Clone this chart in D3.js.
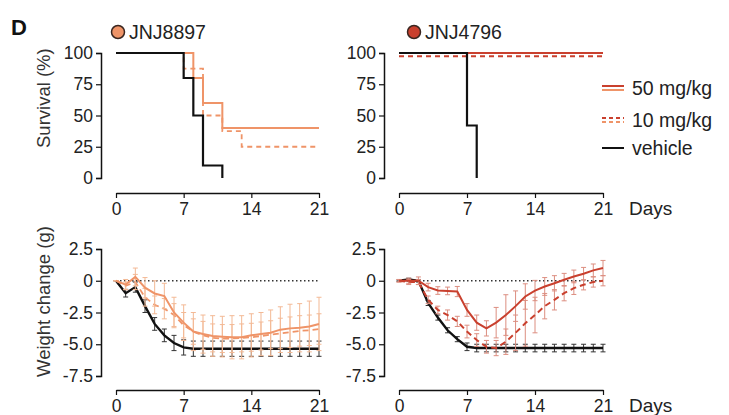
<!DOCTYPE html>
<html>
<head>
<meta charset="utf-8">
<script src="https://cdn.jsdelivr.net/npm/d3@7"></script>
<style>
  body { margin: 0; background: #fff; }
  svg { font-family: "Liberation Sans", Arial, sans-serif; }
</style>
</head>
<body>
<div id="chart"></div>
<script>
// ---- data ----
const days = d3.range(0, 22);
const xTicks = [0, 7, 14, 21];
const survTicks = [0, 25, 50, 75, 100];
const weightTicks = [2.5, 0, -2.5, -5.0, -7.5];
const weightTickLabels = ["2.5", "0", "-2.5", "-5.0", "-7.5"];

// survival steps (day, %)
const s8897Hi = { days: [0, 8, 9, 11, 21], vals: [100, 80, 60, 40, 40] };
const s8897Lo = { days: [0, 7, 9, 11, 13, 21], vals: [100, 87.5, 50, 37.5, 25, 25] };
const s8897Veh = { days: [0, 7, 8, 9, 11], vals: [100, 80, 50, 10, 0] };
const s4796Hi = { days: [0, 21], vals: [100, 100] };
const s4796Lo = { days: [0, 21], vals: [97.5, 97.5] };
const s4796Veh = { days: [0, 7, 8], vals: [100, 42, 0] };

// weight change (g), mean and error
const w8897Hi = [0, -0.3, 0.3, -0.55, -1.0, -1.2, -2.5, -3.3, -4.0, -4.2, -4.35, -4.4, -4.45, -4.45, -4.3, -4.2, -4.1, -3.85, -3.75, -3.7, -3.6, -3.4];
const e8897Hi = [0, 0.4, 0.7, 0.8, 1.0, 1.0, 1.2, 1.4, 1.5, 1.5, 1.6, 1.6, 1.7, 1.7, 1.7, 1.7, 1.8, 1.8, 1.9, 1.9, 2.0, 2.1];
const w8897Lo = [0, -0.4, -0.1, -1.3, -1.9, -2.2, -2.7, -3.5, -4.0, -4.3, -4.5, -4.55, -4.55, -4.5, -4.45, -4.35, -4.25, -4.15, -4.05, -3.95, -3.9, -3.8];
const e8897Lo = [0, 0.3, 0.6, 0.7, 0.7, 0.8, 0.9, 1.0, 1.0, 1.1, 1.1, 1.1, 1.1, 1.1, 1.1, 1.1, 1.1, 1.2, 1.2, 1.2, 1.2, 1.2];
const w8897Veh = [0, -0.98, -0.5, -2.0, -3.4, -4.3, -4.9, -5.25, -5.35, -5.35, -5.35, -5.35, -5.35, -5.35, -5.35, -5.35, -5.35, -5.35, -5.35, -5.35, -5.35, -5.35];
const e8897Veh = [0, 0.3, 0.4, 0.5, 0.5, 0.5, 0.6, 0.6, 0.6, 0.6, 0.6, 0.6, 0.6, 0.6, 0.6, 0.6, 0.6, 0.6, 0.6, 0.6, 0.6, 0.6];

const w4796Hi = [0, 0, 0, -0.5, -0.77, -0.8, -0.85, -2.3, -3.3, -3.75, -3.3, -2.7, -2.0, -1.24, -0.77, -0.45, -0.2, 0.08, 0.34, 0.55, 0.82, 1.0];
const e4796Hi = [0.1, 0.2, 0.3, 0.3, 0.3, 0.3, 0.4, 0.5, 0.6, 0.6, 1.2, 1.6, 1.2, 1.0, 0.8, 0.7, 0.6, 0.5, 0.5, 0.5, 0.5, 0.6];
const w4796Lo = [0, -0.1, -0.1, -1.5, -2.3, -2.7, -3.2, -4.0, -4.67, -5.2, -5.3, -4.8, -4.1, -3.35, -2.7, -2.0, -1.5, -0.98, -0.58, -0.32, -0.1, 0];
const e4796Lo = [0.1, 0.2, 0.2, 0.3, 0.3, 0.4, 0.4, 0.5, 0.5, 0.5, 0.6, 1.0, 1.4, 1.8, 1.4, 1.0, 0.8, 0.6, 0.5, 0.4, 0.4, 0.4];
const w4796Veh = [0, 0.1, 0, -1.75, -2.9, -3.9, -4.6, -5.2, -5.3, -5.3, -5.3, -5.3, -5.3, -5.3, -5.3, -5.3, -5.3, -5.3, -5.3, -5.3, -5.3, -5.3];
const e4796Veh = [0.05, 0.1, 0.1, 0.2, 0.2, 0.2, 0.2, 0.3, 0.3, 0.3, 0.3, 0.3, 0.3, 0.3, 0.3, 0.3, 0.3, 0.3, 0.3, 0.3, 0.3, 0.3];

const orange = "#ef9468";
const orangeLight = "#f3b995";
const red = "#c9402e";
const redLight = "#dc8e80";

const svg = d3.select("#chart").append("svg")
  .attr("width", 729).attr("height", 415);

// ---- helpers ----
function xAxisAt(x, y) {
  const g = svg.append("g").attr("transform", `translate(0,${y})`);
  g.call(d3.axisBottom(x).tickValues(days).tickSize(3).tickSizeOuter(0).tickFormat(""));
  g.call(d3.axisBottom(x).tickValues(xTicks).tickSize(5).tickSizeOuter(0).tickFormat(d3.format("d")));
  g.selectAll("path.domain").attr("stroke", "#111").attr("stroke-width", 1.5);
  g.selectAll("line").attr("stroke", "#111").attr("stroke-width", 1.2);
  g.selectAll("text").attr("font-size", 17.5).attr("fill", "#222").attr("dy", "0").attr("y", 22);
  return g;
}

function yAxisAt(y, x, ticks, minor, labels) {
  const g = svg.append("g").attr("transform", `translate(${x},0)`);
  g.call(d3.axisLeft(y).tickValues(minor).tickSize(3).tickSizeOuter(0).tickFormat(""));
  g.call(d3.axisLeft(y).tickValues(ticks).tickSize(5).tickSizeOuter(5)
    .tickFormat((d, i) => labels ? labels[i] : d));
  g.selectAll("path.domain").attr("stroke", "#111").attr("stroke-width", 1.5);
  g.selectAll("line").attr("stroke", "#111").attr("stroke-width", 1.2);
  g.selectAll("text").attr("font-size", 17.5).attr("fill", "#222").attr("x", -8);
  return g;
}

function stepLine(x, y, s, color, width, dash) {
  const pts = s.days.map((d, i) => [d, s.vals[i]]);
  svg.append("path")
    .datum(pts)
    .attr("fill", "none")
    .attr("stroke", color)
    .attr("stroke-width", width)
    .attr("stroke-dasharray", dash || null)
    .attr("d", d3.line().x(d => x(d[0])).y(d => y(d[1])).curve(d3.curveStepAfter));
}

function weightSeries(x, y, vals, errs, color, barColor, width, dash) {
  const g = svg.append("g");
  const bars = g.selectAll("g.bar").data(days).join("g");
  bars.append("line")
    .attr("x1", d => x(d)).attr("x2", d => x(d))
    .attr("y1", d => y(vals[d] + errs[d])).attr("y2", d => y(vals[d] - errs[d]))
    .attr("stroke", barColor).attr("stroke-width", 1);
  [1, -1].forEach(s => {
    bars.append("line")
      .attr("x1", d => x(d) - 2.5).attr("x2", d => x(d) + 2.5)
      .attr("y1", d => y(vals[d] + s * errs[d])).attr("y2", d => y(vals[d] + s * errs[d]))
      .attr("stroke", barColor).attr("stroke-width", 1);
  });
  g.append("path")
    .datum(days)
    .attr("fill", "none")
    .attr("stroke", color)
    .attr("stroke-width", width)
    .attr("stroke-dasharray", dash || null)
    .attr("d", d3.line().x(d => x(d)).y(d => y(vals[d])));
}

// ---- scales ----
const xL = d3.scaleLinear().domain([0, 21]).range([116, 319]);
const xR = d3.scaleLinear().domain([0, 21]).range([399, 603]);
const yS = d3.scaleLinear().domain([0, 100]).range([178, 53]);
const yW = d3.scaleLinear().domain([-7.5, 2.5]).range([376, 249]);

// ---- survival panels ----
yAxisAt(yS, 101, survTicks, d3.range(0, 101, 12.5));
yAxisAt(yS, 384, survTicks, d3.range(0, 101, 12.5));
xAxisAt(xL, 193);
xAxisAt(xR, 193);

stepLine(xL, yS, s8897Lo, orange, 1.8, "5,4");
stepLine(xL, yS, s8897Hi, orange, 2);
stepLine(xL, yS, s8897Veh, "#111", 2.2);

stepLine(xR, yS, s4796Hi, red, 2);
stepLine(xR, yS, s4796Lo, red, 2, "5,4");
stepLine(xR, yS, s4796Veh, "#111", 2.2);

// ---- weight panels ----
yAxisAt(yW, 101, weightTicks, d3.range(-7.5, 2.6, 1.25), weightTickLabels);
yAxisAt(yW, 384, weightTicks, d3.range(-7.5, 2.6, 1.25), weightTickLabels);
xAxisAt(xL, 390);
xAxisAt(xR, 390);

[xL, xR].forEach(x => {
  svg.append("line")
    .attr("x1", x(0)).attr("x2", x(21))
    .attr("y1", yW(0)).attr("y2", yW(0))
    .attr("stroke", "#333").attr("stroke-width", 1.3)
    .attr("stroke-dasharray", "1.5,2.5");
});

weightSeries(xL, yW, w8897Veh, e8897Veh, "#111", "#333", 2.4);
weightSeries(xL, yW, w8897Lo, e8897Lo, orange, orangeLight, 1.8, "6,4");
weightSeries(xL, yW, w8897Hi, e8897Hi, orange, orangeLight, 2);

weightSeries(xR, yW, w4796Veh, e4796Veh, "#111", "#333", 2.4);
weightSeries(xR, yW, w4796Lo, e4796Lo, red, redLight, 2, "6,4");
weightSeries(xR, yW, w4796Hi, e4796Hi, red, redLight, 2);

// ---- labels ----
svg.append("text").attr("x", 11).attr("y", 35)
  .attr("font-size", 22).attr("font-weight", "bold").attr("fill", "#111").text("D");

[[118, "JNJ8897", orange], [414, "JNJ4796", red]].forEach(([cx, name, col]) => {
  svg.append("circle").attr("cx", cx).attr("cy", 32).attr("r", 6.5)
    .attr("fill", col).attr("stroke", "#3a2620").attr("stroke-width", 1.5);
  svg.append("text").attr("x", cx + 11).attr("y", 39)
    .attr("font-size", 19.5).attr("fill", "#222").text(name);
});

svg.append("text")
  .attr("transform", "translate(50,148) rotate(-90)")
  .attr("font-size", 18.5).attr("fill", "#333").text("Survival (%)");
svg.append("text")
  .attr("transform", "translate(50,377) rotate(-90)")
  .attr("font-size", 18.5).attr("fill", "#333").text("Weight change (g)");

[215, 412].forEach(y => {
  svg.append("text").attr("x", 629).attr("y", y)
    .attr("font-size", 19).attr("fill", "#222").text("Days");
});

// ---- legend ----
const legend = svg.append("g");
const legendItems = [
  { label: "50 mg/kg", y: 88, dash: null, double: true },
  { label: "10 mg/kg", y: 120, dash: "4,3", double: true },
  { label: "vehicle", y: 148, dash: null, double: false }
];
legendItems.forEach(it => {
  if (it.double) {
    legend.append("line").attr("x1", 602).attr("x2", 624)
      .attr("y1", it.y - 2).attr("y2", it.y - 2)
      .attr("stroke", red).attr("stroke-width", 2).attr("stroke-dasharray", it.dash);
    legend.append("line").attr("x1", 602).attr("x2", 624)
      .attr("y1", it.y + 2).attr("y2", it.y + 2)
      .attr("stroke", orange).attr("stroke-width", 2).attr("stroke-dasharray", it.dash);
  } else {
    legend.append("line").attr("x1", 602).attr("x2", 624)
      .attr("y1", it.y).attr("y2", it.y)
      .attr("stroke", "#111").attr("stroke-width", 2);
  }
  legend.append("text").attr("x", 632).attr("y", it.y + 7)
    .attr("font-size", 19.5).attr("fill", "#222").text(it.label);
});
</script>
</body>
</html>
